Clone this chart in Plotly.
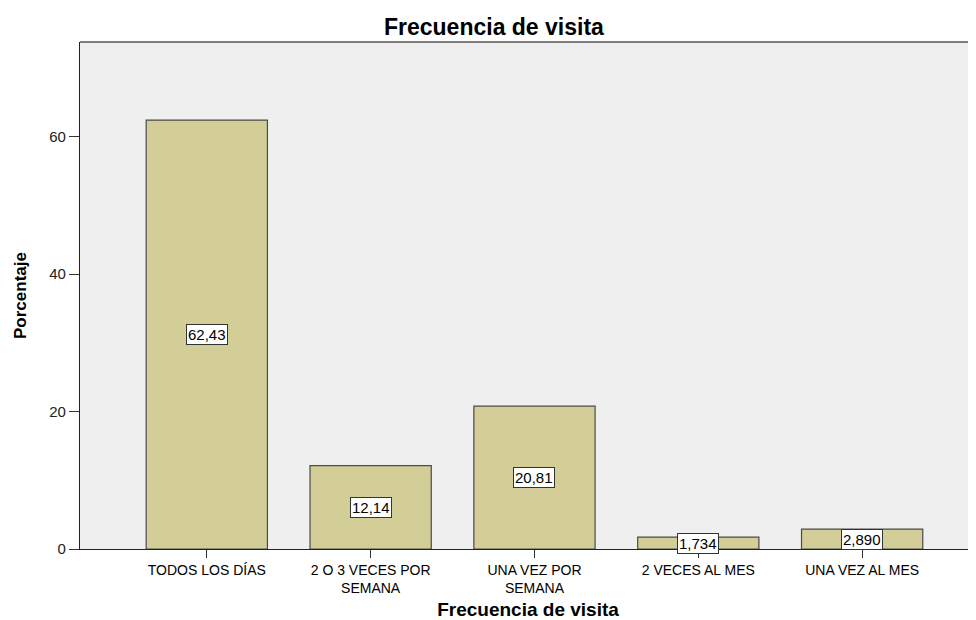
import plotly.graph_objects as go

categorias = ["TODOS LOS DÍAS", "2 O 3 VECES POR<br>SEMANA", "UNA VEZ POR<br>SEMANA",
              "2 VECES AL MES", "UNA VEZ AL MES"]
porcentajes = [62.43, 12.14, 20.81, 1.734, 2.890]
etiquetas = ["62,43", "12,14", "20,81", "1,734", "2,890"]

FONT = "Liberation Sans, Arial, sans-serif"

x_idx = list(range(len(categorias)))

fig = go.Figure()
fig.add_trace(go.Bar(
    x=x_idx,
    y=porcentajes,
    width=0.74,
    marker=dict(color="#D3CE97", line=dict(color="#4a4a4a", width=1.2)),
    hoverinfo="y",
))

# etiquetas de valor en cajas blancas, a media altura de cada barra
for xi, v, t in zip(x_idx, porcentajes, etiquetas):
    fig.add_annotation(
        x=xi, y=v / 2, text=t, showarrow=False,
        font=dict(family=FONT, size=15, color="black"),
        bgcolor="white", bordercolor="#333333", borderwidth=1, borderpad=1,
    )

# la página añade 8 px de margen al cuerpo: figura de 968x612
fig.update_layout(
    width=968, height=612,
    margin=dict(l=72, r=0, t=34, b=71),
    paper_bgcolor="white",
    plot_bgcolor="#EFEFEF",
    showlegend=False,
    title=dict(text="<b>Frecuencia de visita</b>", x=0.502, xanchor="center",
               y=0.969, yanchor="middle",
               font=dict(family=FONT, size=23, color="black")),
    xaxis=dict(
        tickmode="array", tickvals=x_idx, ticktext=categorias,
        range=[-0.774, 4.695],
        ticks="outside", ticklen=8, tickcolor="#333", tickwidth=1,
        showgrid=False, zeroline=False,
        showline=True, linecolor="#222", linewidth=1.2,
        tickfont=dict(family=FONT, size=14, color="black"),
        title=dict(text="<b>Frecuencia de visita</b>", standoff=8,
                   font=dict(family=FONT, size=19, color="black")),
    ),
    yaxis=dict(
        range=[0, 73.8],
        tickvals=[0, 20, 40, 60],
        ticks="outside", ticklen=10, tickcolor="#333", tickwidth=1,
        showgrid=False, zeroline=False,
        showline=True, linecolor="#222", linewidth=1.2,
        tickfont=dict(family=FONT, size=15, color="#222"),
        title=dict(text="<b>Porcentaje</b>", standoff=18,
                   font=dict(family=FONT, size=17, color="black")),
    ),
)

# borde superior del área de trazado
fig.add_shape(type="line", xref="paper", yref="paper", x0=0, x1=1, y0=1, y1=1,
              line=dict(color="#555", width=1.5))

fig.write_html("out.html")
